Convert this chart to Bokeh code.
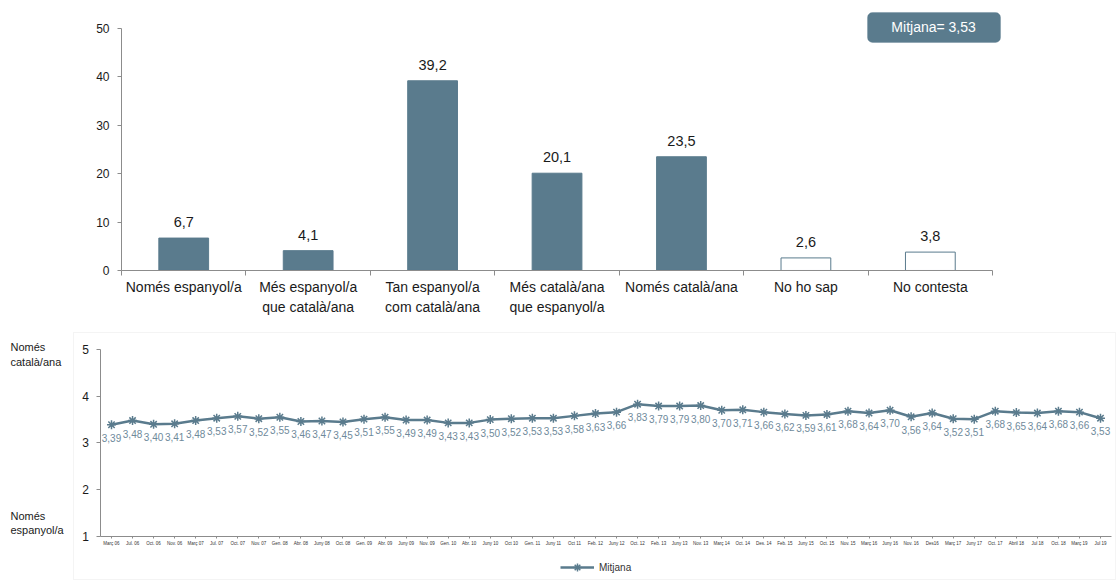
from bokeh.plotting import figure
from bokeh.layouts import column
from bokeh.models import (ColumnDataSource, FixedTicker, Label, BoxAnnotation,
                          Legend, LegendItem, Range1d)
from bokeh.core.properties import value
from bokeh.embed import file_html
from bokeh.resources import INLINE

# --- identity distribution (%) ---
categories = ["Només espanyol/a", "Més espanyol/a\nque català/ana",
              "Tan espanyol/a\ncom català/ana", "Més català/ana\nque espanyol/a",
              "Només català/ana", "No ho sap", "No contesta"]
percentages = [6.7, 4.1, 39.2, 20.1, 23.5, 2.6, 3.8]
hollow = [False, False, False, False, False, True, True]
current_mean = 3.53

# --- evolution of the mean (1 = només espanyol/a, 5 = només català/ana) ---
waves = ["Març 06", "Jul. 06", "Oct. 06", "Nov. 06", "Març 07", "Jul. 07", "Oct. 07",
         "Nov. 07", "Gen. 08", "Abr. 08", "Juny 08", "Oct. 08", "Gen. 09", "Abr. 09",
         "Juny 09", "Nov. 09", "Gen. 10", "Abr. 10", "Juny 10", "Oct 10", "Gen. 11",
         "Juny 11", "Oct 11", "Feb. 12", "Juny 12", "Oct. 12", "Feb. 13", "Juny 13",
         "Nov. 13", "Març 14", "Oct. 14", "Des. 14", "Feb. 15", "Juny 15", "Oct. 15",
         "Nov. 15", "Març 16", "Juny 16", "Nov. 16", "Des16", "Març 17", "Juny 17",
         "Oct. 17", "Abril 18", "Jul 18", "Oct. 18", "Març 19", "Jul 19"]
means = [3.39, 3.48, 3.40, 3.41, 3.48, 3.53, 3.57, 3.52, 3.55, 3.46, 3.47, 3.45,
         3.51, 3.55, 3.49, 3.49, 3.43, 3.43, 3.50, 3.52, 3.53, 3.53, 3.58, 3.63,
         3.66, 3.83, 3.79, 3.79, 3.80, 3.70, 3.71, 3.66, 3.62, 3.59, 3.61, 3.68,
         3.64, 3.70, 3.56, 3.64, 3.52, 3.51, 3.68, 3.65, 3.64, 3.68, 3.66, 3.53]

FONT = "Liberation Sans"
BLUE = "#5a7b8d"
AXIS = "#8c8c8c"
TEXT = "#1a1a1a"


def fmt(v, nd):
    return f"{v:.{nd}f}".replace(".", ",")


def style_axis(ax, size):
    ax.axis_line_color = AXIS
    ax.major_tick_line_color = AXIS
    ax.major_tick_in = 0
    ax.minor_tick_line_color = None
    ax.major_label_text_font = FONT
    ax.major_label_text_font_size = size
    ax.major_label_text_color = TEXT


def bare_figure(w, h, xr, yr):
    # frame fills the whole canvas; axes are pinned at data positions
    f = figure(width=w, height=h, x_range=Range1d(*xr), y_range=Range1d(*yr),
               output_backend="svg", toolbar_location=None, min_border=0)
    f.outline_line_color = None
    f.xgrid.visible = False
    f.ygrid.visible = False
    return f


# ================= bar chart =================
n = len(categories)
xs = [i + 0.5 for i in range(n)]
bars = ColumnDataSource(dict(
    x=xs, top=percentages,
    fill=["white" if h else BLUE for h in hollow],
    label=[fmt(v, 1) for v in percentages],
))

p = bare_figure(1116, 330, (-0.9724, 7.996), (-12.397, 55.785))

p.vbar(x="x", top="top", width=0.4, source=bars, fill_color="fill",
       line_color=BLUE, line_width=1)
p.text(x="x", y="top", text="label", source=bars, y_offset=-11,
       text_align="center", text_baseline="bottom",
       text_font=value(FONT), text_font_size="14.5px", text_color=TEXT)

style_axis(p.yaxis[0], "12px")
p.yaxis.ticker = FixedTicker(ticks=[0, 10, 20, 30, 40, 50])
p.yaxis.fixed_location = 0
p.yaxis.bounds = (0, 50)
p.yaxis.major_tick_out = 4
p.yaxis.major_label_standoff = 8

style_axis(p.xaxis[0], "14px")
p.xaxis.ticker = FixedTicker(ticks=xs, minor_ticks=list(range(n + 1)))
p.xaxis.fixed_location = 0
p.xaxis.bounds = (0, n)
p.xaxis.major_label_overrides = {x: c for x, c in zip(xs, categories)}
p.xaxis.major_tick_line_color = None
p.xaxis.minor_tick_line_color = AXIS
p.xaxis.minor_tick_in = 0
p.xaxis.minor_tick_out = 5
p.xaxis.major_label_standoff = 3

# summary badge in the upper right corner
p.add_layout(BoxAnnotation(left=5.995, right=7.064, bottom=47.107, top=53.306,
                           fill_color=BLUE, fill_alpha=1, line_color=BLUE,
                           border_radius=5))
p.add_layout(Label(x=6.526, y=50.207, text=f"Mitjana= {fmt(current_mean, 2)}",
                   text_align="center", text_baseline="middle",
                   text_font=FONT, text_font_size="14px", text_color="white"))

# ================= evolution of the mean =================
idx = list(range(len(waves)))
evo = ColumnDataSource(dict(x=idx, y=means, label=[fmt(v, 2) for v in means]))

q = bare_figure(1116, 250, (-5.275, 47.76), (0.0588, 5.406))

line = q.line(x="x", y="y", source=evo, line_color=BLUE, line_width=2.5)
marks = q.scatter(x="x", y="y", source=evo, marker="asterisk", size=9,
                  line_color=BLUE, line_width=1.5)
q.text(x="x", y="y", text="label", source=evo, y_offset=9,
       text_align="center", text_baseline="top",
       text_font=value(FONT), text_font_size="10px", text_color="#6f8a9b")

style_axis(q.yaxis[0], "12px")
q.yaxis.ticker = FixedTicker(ticks=[1, 2, 3, 4, 5])
q.yaxis.fixed_location = -0.5
q.yaxis.bounds = (1, 5)
q.yaxis.major_tick_out = 4
q.yaxis.major_label_standoff = 8

style_axis(q.xaxis[0], "4.5px")
q.xaxis.ticker = FixedTicker(ticks=idx)
q.xaxis.fixed_location = 1
q.xaxis.bounds = (-0.5, len(waves) - 0.5)
q.xaxis.major_label_overrides = {i: w for i, w in zip(idx, waves)}
q.xaxis.major_tick_out = 2
q.xaxis.major_label_standoff = 3
q.xaxis.major_label_text_color = "#333333"

legend = Legend(items=[LegendItem(label="Mitjana", renderers=[line, marks])],
                location=(560, 3), orientation="horizontal",
                border_line_color=None, background_fill_alpha=0,
                label_text_font=FONT, label_text_font_size="10px",
                label_text_color="#333333",
                glyph_width=34, glyph_height=20, label_height=20,
                padding=0, margin=0)
q.add_layout(legend)

# scale captions on the left and the frame around the panel
q.add_layout(Label(x=-4.80, y=5.171, text="Només\ncatalà/ana", text_font=FONT,
                   text_font_size="11px", text_color=TEXT, text_baseline="top"))
q.add_layout(Label(x=-4.80, y=1.577, text="Només\nespanyol/a", text_font=FONT,
                   text_font_size="11px", text_color=TEXT, text_baseline="top"))
q.add_layout(BoxAnnotation(left=-1.806, right=47.71, bottom=0.08, top=5.363,
                           fill_alpha=0, line_color="#d9d9d9", line_width=1))

layout = column(p, q, spacing=0)
open("out.html", "w").write(file_html(layout, INLINE))
